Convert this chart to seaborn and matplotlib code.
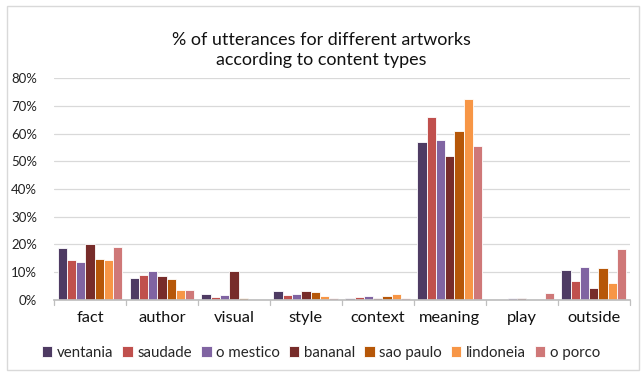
import matplotlib
matplotlib.use("Agg")
import matplotlib.pyplot as plt
import seaborn as sns
import pandas as pd
from matplotlib.ticker import PercentFormatter
from matplotlib.patches import Rectangle

categories = ["fact", "author", "visual", "style", "context", "meaning", "play", "outside"]
artworks = ["ventania", "saudade", "o mestico", "bananal", "sao paulo", "lindoneia", "o porco"]

ventania  = [18.7, 7.9, 2.1, 3.3, 0.5, 57.0, 0.0, 10.7]
saudade   = [14.3, 9.1, 1.2, 1.6, 1.0, 66.1, 0.0, 6.9]
o_mestico = [13.8, 10.3, 1.7, 2.1, 1.3, 57.8, 0.8, 11.9]
bananal   = [20.2, 8.7, 10.4, 3.3, 0.8, 51.9, 0.5, 4.3]
sao_paulo = [14.8, 7.6, 0.8, 2.8, 1.3, 61.0, 0.0, 11.4]
lindoneia = [14.3, 3.6, 0.0, 1.3, 2.2, 72.4, 0.0, 6.0]
o_porco   = [19.0, 3.6, 0.0, 0.6, 0.6, 55.5, 2.5, 18.2]

colors = ["#4E3B63", "#C0504D", "#8064A2", "#772C2A", "#B65708", "#F79646", "#CF7878"]

series = [ventania, saudade, o_mestico, bananal, sao_paulo, lindoneia, o_porco]
rows = []
for name, vals in zip(artworks, series):
    for cat, v in zip(categories, vals):
        rows.append({"category": cat, "artwork": name, "value": v / 100})
df = pd.DataFrame(rows)

sns.set_theme(style="white")
plt.rcParams["font.family"] = ["Lato", "DejaVu Sans"]

fig = plt.figure(figsize=(6.42, 3.72), dpi=100)
ax = fig.add_axes([0.084, 0.194, 0.897, 0.596])

sns.barplot(data=df, x="category", y="value", hue="artwork", order=categories,
            hue_order=artworks, palette=colors, width=0.9, saturation=1, ax=ax,
            edgecolor="white", linewidth=0.6, legend=True)

ax.set_ylim(0, 0.8)
ax.set_yticks([i / 10 for i in range(9)])
ax.yaxis.set_major_formatter(PercentFormatter(1.0, decimals=0))
ax.grid(axis="y", color="#D9D9D9", linewidth=0.9)
ax.set_axisbelow(True)
for s in ["left", "right", "top"]:
    ax.spines[s].set_visible(False)
ax.spines["bottom"].set_color("#BFBFBF")
ax.spines["bottom"].set_zorder(5)
ax.set_xlim(-0.5, len(categories) - 0.5)
ax.set_xlabel("")
ax.set_ylabel("")
ax.tick_params(axis="y", labelsize=9.5, colors="#222222", length=0, pad=12)
ax.tick_params(axis="x", labelsize=11.8, colors="#111111", length=0, pad=8)

# category boundary tick marks
for b in [i - 0.5 for i in range(len(categories) + 1)]:
    ax.plot([b, b], [0, -0.018], color="#BFBFBF", linewidth=0.9, clip_on=False,
            transform=ax.transData)

ax.legend_.remove()
handles, labels = ax.get_legend_handles_labels()
fig.legend(handles, labels, loc="center", bbox_to_anchor=(0.5, 0.052), ncol=7,
           frameon=False, fontsize=10.8, handlelength=0.7, handleheight=0.7,
           handletextpad=0.3, columnspacing=0.6, borderaxespad=0)

fig.text(0.5, 0.866, "% of utterances for different artworks\naccording to content types",
         ha="center", va="center", fontsize=12.9, color="#111111", linespacing=1.35)

fig.patches.append(Rectangle((0.011, 0.005), 0.985, 0.978, transform=fig.transFigure,
                             fill=False, edgecolor="#D9D9D9", linewidth=1.0))

fig.savefig("out.png", dpi=100)
